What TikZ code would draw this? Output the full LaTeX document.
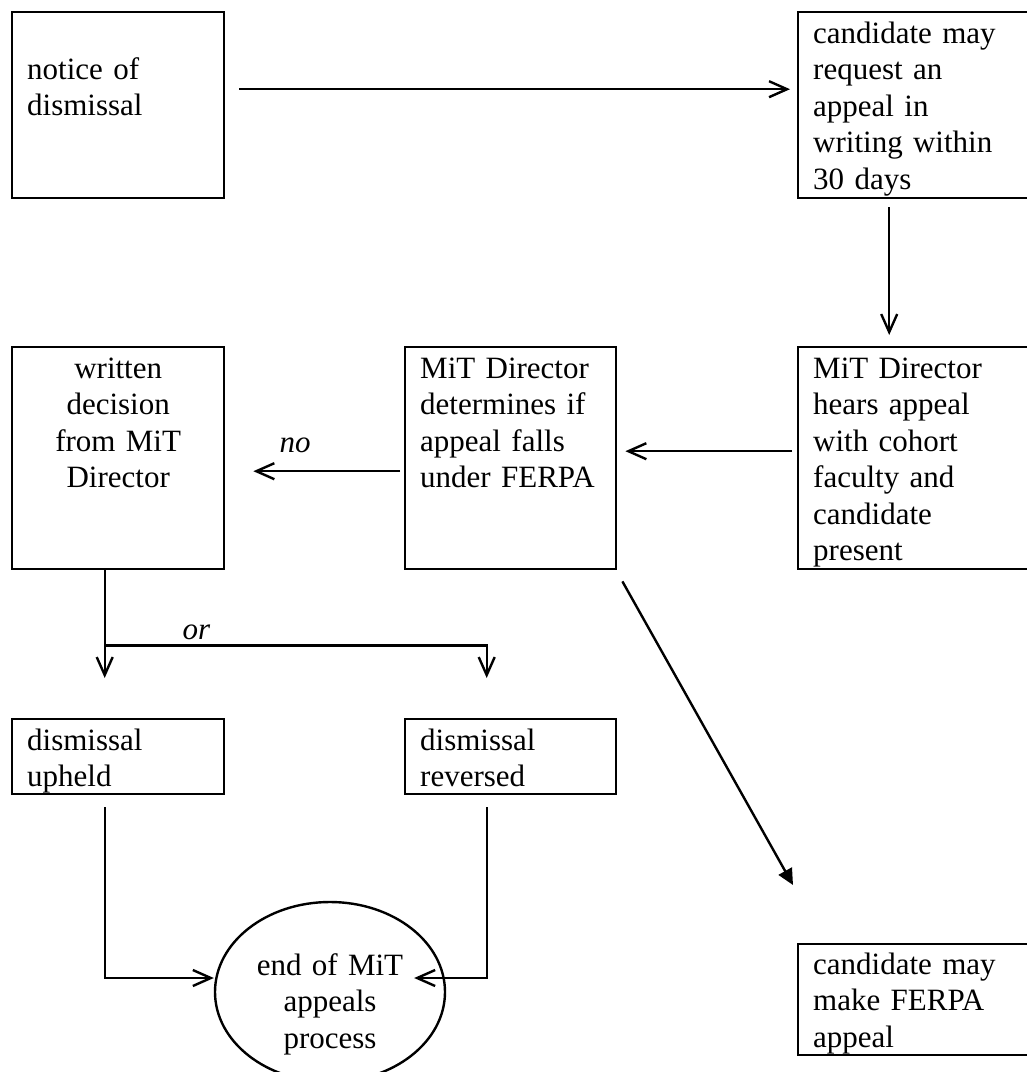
\documentclass[tikz,border=0pt]{standalone}
\usepackage{fontspec}
\setmainfont{Liberation Serif}
\usetikzlibrary{arrows.meta, shapes.geometric}
\tikzset{
	txt/.style = {font=\fontsize{15.5}{18.25}\selectfont},
	tag/.style = {font=\fontsize{15.5}{18.25}\selectfont\itshape, inner sep=1.5pt},
	box/.style = {txt, draw, line width=1.2pt, anchor=north west, align=left, inner xsep=7.5pt, inner ysep=0pt, text height=15.5pt},
	arrow/.style = {line width=1.2pt, -{Straight Barb[length=9pt, width=8pt]}},
	bigarrow/.style = {line width=1.2pt, -{Triangle[length=8pt, width=7.5pt]}}
}
\begin{document}
\begin{tikzpicture}[x = 0.5pt, y = -0.5pt]
		\useasboundingbox (0,0) rectangle (1027,1072);
		
		\node (notice) at (11,11) [box, text width=91pt, text height=33.5pt, text depth=59.5pt] {notice of\\dismissal};
		\node (request) at (797,11) [box, text width=109pt, text depth=77.5pt] {candidate may\\request an\\appeal in\\writing within\\30 days};
		
		\node (hears) at (797,346) [box, text width=109pt, text depth=95.5pt] {MiT Director\\hears appeal\\with cohort\\faculty and\\candidate\\present};
		\node (determines) at (404,346) [box, text width=90.5pt, text depth=95.5pt] {MiT Director\\determines if\\appeal falls\\under FERPA};
		\node (written) at (11,346) [box, align=center, text width=91pt, text depth=95.5pt] {written\\decision\\from MiT\\Director};
		
		\node (upheld) at (11,718) [box, text width=91pt, text depth=22pt] {dismissal\\upheld};
		\node (reversed) at (404,718) [box, text width=90.5pt, text depth=22pt] {dismissal\\reversed};
		\node (finish) at (330,992) [txt, draw, ellipse, line width=1.2pt, align=center, inner sep=0pt, text width=80pt, text height=20pt, text depth=37pt, minimum width=115pt, minimum height=90pt] {end of MiT\\appeals\\process};
		\node (ferpa) at (797,943) [box, text width=109pt, text height=15pt, text depth=40.5pt] {candidate may\\make FERPA\\appeal};
		
		\draw [arrow, shorten <=7pt, shorten >=3.5pt] ([yshift=8pt]notice.east) -- ([yshift=8pt]request.west);
		\draw [arrow, shorten <=4pt, shorten >=5.5pt] ([xshift=-16.5pt]request.south) -- ([xshift=-16.5pt]hears.north);
		\draw [arrow, shorten <=2.5pt, shorten >=4pt] ([yshift=3.5pt]hears.west) -- ([yshift=3.5pt]determines.east);
		\draw [arrow, shorten <=2pt, shorten >=14pt] ([yshift=-6.5pt]determines.west) -- node [tag, above=7pt, pos=0.61] {no} ([yshift=-6.5pt]written.east);
		
		\draw [arrow, shorten >=20pt] ([xshift=-6.75pt]written.south) -- ([xshift=-6.75pt]upheld.north);
		\draw [arrow, shorten >=20pt] ([xshift=-6.75pt, yshift=-37.5pt]written.south) -| node [tag, above=0.5pt, pos=0.12] {or} ([xshift=-12pt]reversed.north);
		
		\draw [arrow] ([xshift=-6.75pt, yshift=-6pt]upheld.south) |- ([yshift=7pt]finish.west);
		\draw [arrow] ([xshift=-12pt, yshift=-6pt]reversed.south) |- ([xshift=-16pt, yshift=7pt]finish.east);
		
		\draw [bigarrow] ([shift={(2.5pt,-5.5pt)}]determines.south east) -- ([shift={(-2pt,29pt)}]ferpa.north west);
\end{tikzpicture}
\end{document}
